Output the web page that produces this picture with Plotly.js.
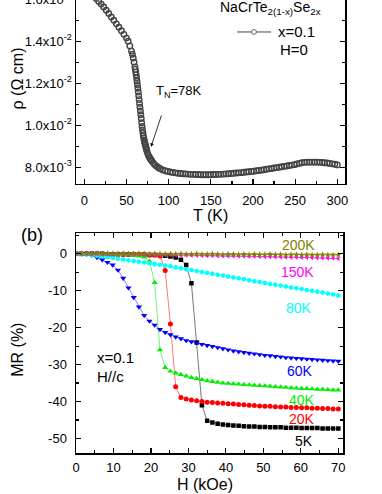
<!DOCTYPE html>
<html>
<head>
<meta charset="utf-8">
<script src="https://cdn.plot.ly/plotly-3.0.1.min.js"></script>
<style>
html,body{margin:0;padding:0;overflow:hidden;background:#fff;width:382px;height:494px;}
#plot{position:absolute;left:0;top:-10px;width:382px;height:504px;}
</style>
</head>
<body>
<div id="plot"></div>
<script>
// ---------- Panel (a): resistivity vs temperature, H = 0, x = 0.1 ----------
const T_K = [2,5,8,11,14,17,20,23,26,29,32,35,38,41,44,47,50,52,54,56,57,58,59,60,
  60.5,61,61.5,62,62.5,63,63.5,64,64.5,65,65.5,66,66.5,67,67.5,68,68.5,69,69.5,70,
  70.5,71,71.5,72,72.5,73,73.5,74,75,76,77,78,79,80,82,84,86,88,90,93,96,99,102,105,
  108,111,114,117,120,123,126,129,132,135,138,141,144,147,150,153,156,159,162,165,
  168,171,174,177,180,183,186,189,192,195,198,201,204,207,210,213,216,219,222,225,
  228,231,234,237,240,243,246,249,252,255,258,261,264,267,270,273,276,279,282,285,
  288,291,294,297,300];
// resistivity in units of 1e-3 Ohm cm
const rho_1e3 = [16.53,16.41,16.29,16.16,16.03,15.90,15.77,15.63,15.48,15.32,15.16,15.00,
  14.83,14.67,14.50,14.33,14.15,14.00,13.78,13.53,13.38,13.20,13.00,12.78,
  12.66,12.53,12.40,12.26,12.10,11.93,11.76,11.58,11.40,11.22,11.04,10.86,10.68,10.50,
  10.32,10.12,9.94,9.78,9.63,9.50,9.39,9.29,9.20,9.12,9.04,8.96,8.88,8.80,8.67,8.57,
  8.49,8.42,8.36,8.30,8.19,8.10,8.03,7.97,7.93,7.87,7.83,7.80,7.77,7.75,
  7.73,7.71,7.70,7.69,7.68,7.67,7.66,7.66,7.65,7.65,7.64,7.64,7.64,7.64,7.64,7.65,
  7.65,7.66,7.66,7.67,7.68,7.69,7.70,7.71,7.72,7.73,7.74,7.76,7.77,7.78,7.80,7.81,
  7.83,7.84,7.86,7.88,7.90,7.92,7.94,7.96,7.98,8.00,8.02,8.04,8.06,8.08,8.10,8.12,
  8.15,8.18,8.21,8.23,8.24,8.24,8.24,8.24,8.24,8.23,8.22,8.21,8.20,8.18,8.16,8.14,8.11];
const rhoTickVals = [8,10,12,14,16];
const rhoTickText = ['8.0x10<sup>-3</sup>','1.0x10<sup>-2</sup>','1.2x10<sup>-2</sup>',
  '1.4x10<sup>-2</sup>','1.6x10<sup>-2</sup>'];

// ---------- Panel (b): magnetoresistance vs field ----------
const H_kOe = [0,1.4,2.8,4.2,5.6,7,8.4,9.8,11.2,12.6,14,15.4,16.8,18.2,19.6,21,22.4,23.8,
  25.2,26.6,28,29.4,30.8,32.2,33.6,35,36.4,37.8,39.2,40.6,42,43.4,44.8,46.2,47.6,49,
  50.4,51.8,53.2,54.6,56,57.4,58.8,60.2,61.6,63,64.4,65.8,67.2,68.6,70];
const MR_5K = [0,0,0,0,0,0,-0.1,-0.1,-0.1,-0.1,-0.1,-0.2,-0.2,-0.2,-0.3,-0.3,-0.4,-0.5,
  -0.7,-1.0,-1.6,-3.0,-8.0,-24.0,-41.0,-45.2,-45.7,-46.0,-46.2,-46.4,-46.5,-46.6,-46.7,
  -46.8,-46.8,-46.9,-46.9,-47.0,-47.0,-47.0,-47.1,-47.1,-47.1,-47.2,-47.2,-47.2,-47.2,
  -47.3,-47.3,-47.3,-47.3];
const MR_20K = [0,0,0,0,0,-0.1,-0.1,-0.1,-0.1,-0.1,-0.2,-0.2,-0.2,-0.2,-0.3,-0.3,-0.6,-4.5,
  -19.0,-36.0,-38.9,-39.3,-39.6,-39.8,-40.0,-40.2,-40.3,-40.4,-40.5,-40.6,-40.7,-40.8,
  -40.9,-41.0,-41.1,-41.2,-41.3,-41.3,-41.4,-41.5,-41.5,-41.6,-41.6,-41.7,-41.7,-41.8,
  -41.8,-41.9,-41.9,-42.0,-42.0];
const MR_40K = [0,0,0,0,-0.1,-0.1,-0.1,-0.1,-0.2,-0.2,-0.3,-0.5,-0.6,-0.9,-2.0,-7.8,-26.0,
  -30.8,-31.8,-32.3,-32.7,-33.1,-33.5,-33.8,-34.1,-34.4,-34.6,-34.8,-35.0,-35.1,-35.2,
  -35.3,-35.4,-35.5,-35.6,-35.7,-35.8,-35.9,-36.0,-36.1,-36.2,-36.3,-36.4,-36.5,-36.5,
  -36.6,-36.7,-36.7,-36.8,-36.9,-36.9];
const MR_60K = [0,0,-0.1,-0.4,-1.0,-1.6,-2.3,-3.0,-4.4,-6.6,-9.2,-11.8,-14.4,-16.7,-18.2,
  -19.3,-20.5,-21.3,-21.9,-22.5,-23.0,-23.5,-23.8,-24.1,-24.5,-24.8,-25.1,-25.4,-25.7,
  -26.0,-26.3,-26.5,-26.7,-26.9,-27.1,-27.3,-27.5,-27.6,-27.8,-27.9,-28.1,-28.2,-28.3,
  -28.4,-28.5,-28.6,-28.7,-28.8,-28.9,-29.0,-29.1];
const MR_80K = [0,-0.05,-0.15,-0.3,-0.5,-0.7,-0.9,-1.15,-1.35,-1.55,-1.75,-1.95,-2.15,
  -2.35,-2.55,-2.75,-2.95,-3.15,-3.4,-3.65,-3.9,-4.15,-4.4,-4.65,-4.9,-5.15,-5.4,-5.65,
  -5.9,-6.15,-6.4,-6.65,-6.9,-7.15,-7.4,-7.65,-7.9,-8.15,-8.4,-8.6,-8.85,-9.1,-9.3,
  -9.55,-9.8,-10.0,-10.25,-10.5,-10.75,-11.0,-11.3];
const MR_150K = [0,0,0,0,-0.05,-0.05,-0.1,-0.1,-0.1,-0.1,-0.15,-0.15,-0.2,-0.2,-0.2,
  -0.25,-0.25,-0.3,-0.3,-0.3,-0.35,-0.35,-0.4,-0.4,-0.45,-0.5,-0.5,-0.55,-0.55,-0.6,
  -0.6,-0.65,-0.65,-0.7,-0.7,-0.75,-0.8,-0.8,-0.85,-0.85,-0.9,-0.95,-0.95,-1.0,-1.0,
  -1.05,-1.1,-1.1,-1.15,-1.2,-1.3];
const MR_200K = [0.1,0,0.1,0,0.1,0,0.1,0,0,0.1,0,0,0.1,0,-0.1,0,0,-0.1,0,-0.1,0,-0.1,
  -0.1,0,-0.1,-0.1,0,-0.1,-0.2,-0.1,-0.1,-0.2,-0.1,-0.2,-0.1,-0.2,-0.2,-0.1,-0.2,-0.2,
  -0.3,-0.2,-0.2,-0.3,-0.2,-0.3,-0.3,-0.2,-0.3,-0.3,-0.3];
const mrTickVals = [-50,-40,-30,-20,-10,0];
const mrTickText = ['-50','-40','-30','-20','-10','0'];
const seriesNames = ['5K','20K','40K','60K','80K','150K','200K'];

// ---------- layout helpers (page pixel -> paper) ----------
const FONT = 'Liberation Sans, Arial, Helvetica, sans-serif';
const ML = 76, MR = 37, MT = 0, MB = 40.7, FIGW = 382, FIGH = 504, SHIFT = 10;
const PW = FIGW - ML - MR, PH = FIGH - MT - MB;
const px = x => (x - ML) / PW;
const py = y => 1 - (y + SHIFT - MT) / PH;

const series = [
  {y: MR_5K,   color:'#000000', line:'#555555', symbol:'square',        size:4.5},
  {y: MR_20K,  color:'#ff0000', line:'#ff5555', symbol:'circle',        size:5},
  {y: MR_40K,  color:'#00ee00', line:'#55ee55', symbol:'triangle-up',   size:5.5},
  {y: MR_60K,  color:'#0000ff', line:'#6666ff', symbol:'triangle-down', size:5.5},
  {y: MR_80K,  color:'#00ffff', line:'#00ffff', symbol:'hexagon',       size:5},
  {y: MR_150K, color:'#ff00ff', line:'#ff00ff', symbol:'triangle-left', size:4.5},
  {y: MR_200K, color:'#808000', line:'#808000', symbol:'star',          size:5}
];

const traces = [{
  x: T_K, y: rho_1e3, xaxis:'x', yaxis:'y', type:'scatter', mode:'markers',
  marker:{symbol:'circle-open', size:5.5, color:'#444444', line:{color:'#444444', width:1.4}},
  cliponaxis:true, hoverinfo:'skip'
}];
series.forEach((s,i) => traces.push({
  x: H_kOe, y: s.y, name: seriesNames[i], xaxis:'x2', yaxis:'y2', type:'scatter',
  mode:'lines+markers', line:{color:s.line, width:0.8},
  marker:{symbol:s.symbol, size:s.size, color:s.color, line:{width:0}},
  hoverinfo:'skip'
}));

const axCommon = {
  showline:true, linecolor:'#000', linewidth:1.5, mirror:'allticks',
  ticks:'inside', ticklen:5, tickwidth:1.2, tickcolor:'#000',
  showgrid:false, zeroline:false,
  tickfont:{family:FONT, size:13, color:'#000'}
};

const topDom = [py(184), 1];
const botDom = [0, py(233.3)];

const layout = {
  width: FIGW, height: FIGH,
  margin:{l:ML, r:MR, t:MT, b:MB, pad:0},
  paper_bgcolor:'#fff', plot_bgcolor:'#fff',
  showlegend:false,
  xaxis: Object.assign({}, axCommon, {
    domain:[0,1], anchor:'y', range:[-9.84, 309.1],
    tickmode:'linear', tick0:0, dtick:50, ticklabelstandoff:4,
    minor:{tickmode:'linear', tick0:25, dtick:50, ticks:'inside', ticklen:3, tickwidth:1.2, tickcolor:'#000'}
  }),
  yaxis: Object.assign({}, axCommon, {
    domain: topDom, anchor:'x', range:[7.205, 16.443],
    tickmode:'array', tickvals: rhoTickVals, ticktext: rhoTickText, ticklabelstandoff:0,
    minor:{tickmode:'linear', tick0:7, dtick:2, ticks:'inside', ticklen:3, tickwidth:1.2, tickcolor:'#000'}
  }),
  xaxis2: Object.assign({}, axCommon, {
    domain:[0, px(343.3)], anchor:'y2', range:[0, 71.33],
    tickmode:'linear', tick0:0, dtick:10, ticklabelstandoff:2,
    minor:{tickmode:'linear', tick0:5, dtick:10, ticks:'inside', ticklen:3, tickwidth:1.2, tickcolor:'#000'}
  }),
  yaxis2: Object.assign({}, axCommon, {
    domain: botDom, anchor:'x2', range:[-53.95, 5.6],
    tickmode:'array', tickvals: mrTickVals, ticktext: mrTickText, ticklabelstandoff:5,
    minor:{tickmode:'linear', tick0:-55, dtick:10, ticks:'inside', ticklen:3, tickwidth:1.2, tickcolor:'#000'}
  }),
  shapes:[
    {type:'line', xref:'paper', yref:'paper', x0:px(237), x1:px(271), y0:py(32), y1:py(32),
     line:{color:'#444', width:1}},
    {type:'circle', xref:'paper', yref:'paper', x0:px(251.6), x1:px(256.4), y0:py(34.4), y1:py(29.6),
     fillcolor:'#fff', line:{color:'#444', width:0.8}}
  ],
  annotations:[]
};

const A = layout.annotations;
function txt(text, x, y, size, opts){
  A.push(Object.assign({text:text, xref:'paper', yref:'paper', x:px(x), y:py(y),
    xanchor:'center', yanchor:'middle', showarrow:false,
    font:{family:FONT, size:size, color:'#000'}}, opts||{}));
}
// panel (a) texts
txt('NaCrTe<sub>2(1-x)</sub>Se<sub>2x</sub>', 270, 8, 14);
txt('x=0.1', 276, 32, 15, {xanchor:'left'});
txt('H=0', 293.5, 50, 15);
txt('T<sub>N</sub>=78K', 179, 92, 13);
A.push({text:'', xref:'x', yref:'y', x:79.1, y:8.97, axref:'x', ayref:'y', ax:92.1, ay:10.54,
  showarrow:true, arrowhead:2, arrowsize:0.9, arrowwidth:0.8, arrowcolor:'#000'});
txt('T (K)', 210.5, 216, 16);
txt('\u03c1 (\u03a9 cm)', 17.5, 79, 16, {textangle:-90});
// panel (b) texts
txt('(b)', 32, 235, 18);
txt('x=0.1', 95, 358, 15, {xanchor:'left'});
txt('H//c', 95, 377, 15, {xanchor:'left'});
const labelPos = [[304,441.7],[301.7,419],[301.7,400.5],[300,371.7],[299.3,308.3],[297.3,271.7],[298.3,245]];
seriesNames.forEach((n,i) => txt(n, labelPos[i][0], labelPos[i][1], 14, {font:{family:FONT,size:14,color:series[i].color}}));
txt('H (kOe)', 205, 485, 16);
txt('MR (%)', 18, 350, 16, {textangle:-90});

Plotly.newPlot('plot', traces, layout, {staticPlot:true, displayModeBar:false});
</script>
</body>
</html>
